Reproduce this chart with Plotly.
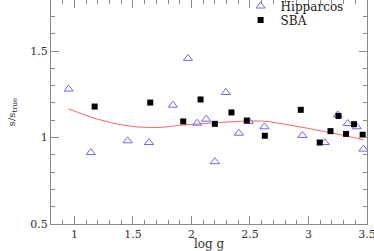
import plotly.graph_objects as go

# Data
hip_x = [0.95, 1.14, 1.455, 1.637, 1.842, 1.970, 2.049, 2.126, 2.200, 2.294,
         2.405, 2.490, 2.624, 2.948, 3.139, 3.250, 3.335, 3.412, 3.469]
hip_y = [1.280, 0.913, 0.981, 0.971, 1.187, 1.457, 1.083, 1.106, 0.860, 1.260,
         1.025, 1.093, 1.062, 1.012, 0.971, 1.131, 1.081, 1.062, 0.933]

sba_x = [1.173, 1.648, 1.930, 2.078, 2.200, 2.342, 2.473, 2.627, 2.934, 3.096,
         3.188, 3.256, 3.321, 3.389, 3.463]
sba_y = [1.179, 1.202, 1.093, 1.220, 1.079, 1.145, 1.098, 1.010, 1.160, 0.971,
         1.037, 1.125, 1.021, 1.077, 1.016]

fit_x = [0.95, 1.19, 1.45, 1.70, 1.93, 2.25, 2.60, 2.87, 3.21, 3.47]
fit_y = [1.166, 1.108, 1.068, 1.058, 1.072, 1.087, 1.095, 1.068, 1.025, 0.987]

x_ticks = [1, 1.5, 2, 2.5, 3, 3.5]
y_ticks = [0.5, 1, 1.5]

SERIF = "DejaVu Serif"
AXC = "#8a8a8a"

fig = go.Figure()
fig.add_trace(go.Scatter(x=fit_x, y=fit_y, mode="lines", line=dict(color="#f26a6a", width=1, shape="spline"),
                         showlegend=False, hoverinfo="skip"))
fig.add_trace(go.Scatter(x=hip_x, y=hip_y, mode="markers", name="Hipparcos", legend="legend",
                         marker=dict(symbol="triangle-up-open", size=8, color="#6a6af0", line=dict(width=1, color="#6a6af0"))))
fig.add_trace(go.Scatter(x=sba_x, y=sba_y, mode="markers", name="SBA", legend="legend2",
                         marker=dict(symbol="square", size=6, color="#000000")))

axis_common = dict(
    showgrid=False, zeroline=False, showline=True, linecolor=AXC, linewidth=1.2,
    mirror="allticks", ticks="inside", ticklen=8, tickwidth=1, tickcolor=AXC,
    tickfont=dict(family=SERIF, size=11, color="#333333"), ticklabeloverflow="allow",
)

fig.update_xaxes(range=[0.8, 3.5], tickvals=x_ticks, ticktext=[str(v) for v in x_ticks],
                 minor=dict(dtick=0.1, tick0=0.8, ticks="inside", ticklen=4, tickcolor=AXC, showgrid=False),
                 title=dict(text="log g", font=dict(family=SERIF, size=12, color="#333333"), standoff=3),
                 **axis_common)
fig.update_yaxes(range=[0.5, 1.795], tickvals=y_ticks, ticktext=[str(v) for v in y_ticks],
                 minor=dict(dtick=0.1, tick0=0.5, ticks="inside", ticklen=4, tickcolor=AXC, showgrid=False),
                 title=dict(text="s/s<sub>true</sub>", font=dict(family=SERIF, size=10, color="#333333"), standoff=12),
                 **axis_common)

leg_common = dict(xref="paper", yref="container", xanchor="left", yanchor="middle",
                  bgcolor="rgba(0,0,0,0)", font=dict(family=SERIF, size=12, color="#222222"),
                  itemwidth=30, borderwidth=0)

fig.update_layout(
    width=374, height=251,
    margin=dict(l=51, r=7, t=0, b=27, autoexpand=False),
    paper_bgcolor="white", plot_bgcolor="white",
    legend=dict(x=0.6, y=1 - 6 / 251, **leg_common),
    legend2=dict(x=0.6, y=1 - 20 / 251, **leg_common),
)

fig.write_html("out.html", config={"displayModeBar": False},
               post_script="document.body.style.margin='0';document.body.style.overflow='hidden';")
